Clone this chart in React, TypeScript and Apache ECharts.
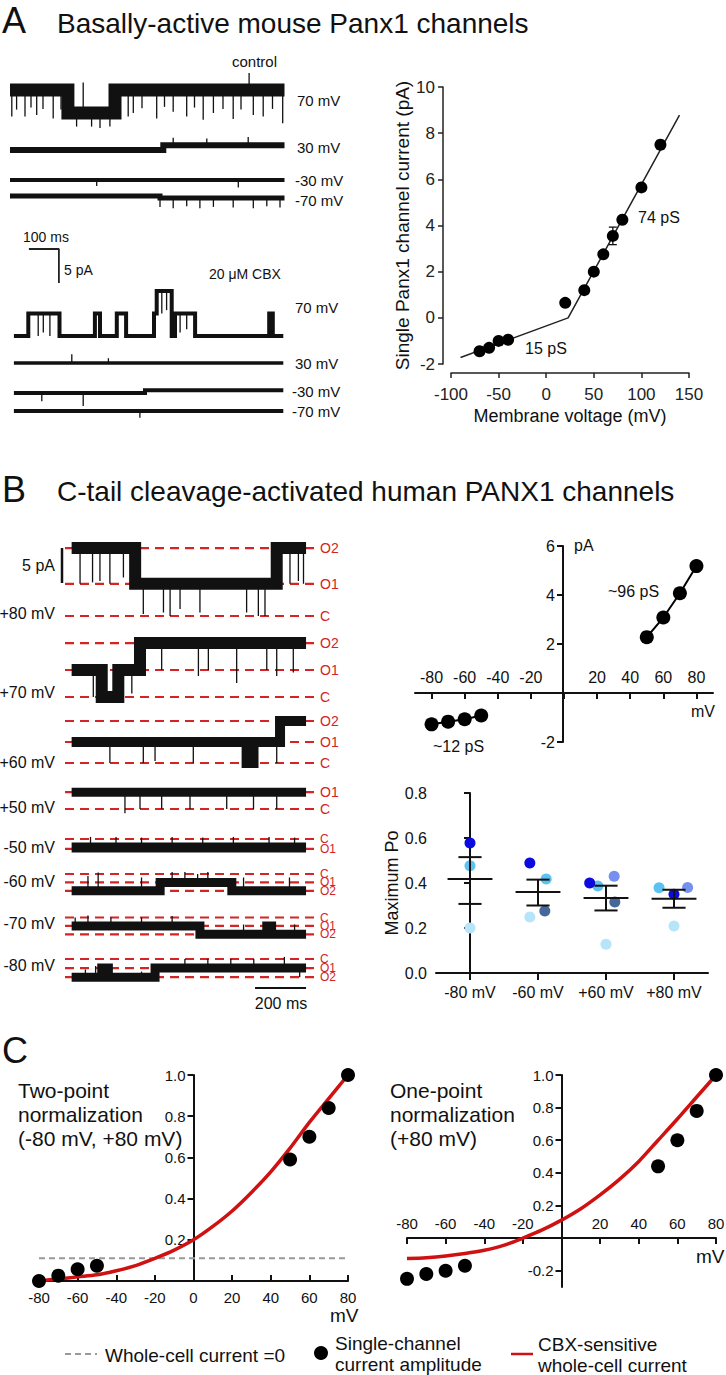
import React, { useEffect, useRef } from "react";
import * as echarts from "echarts";

const FONT = '"Liberation Sans", Arial, Helvetica, sans-serif';
const RED = "#d42424";
const CURVE_RED = "#cf1111";
const INK = "#111";

// ================= DATA =================
// ---- Panel A: single-channel traces (time ms, current pA) ----
const aCtl70Times = [0, 193, 350, 915];
const aCtl70Levels = [3.4, 0, 3.4];
const aCtl70Spikes = [[6, -0.5], [22, 0.5], [50, -0.5], [70, 0.8], [89, -0.3], [110, 0.6], [144, -0.8], [170, 0.5], [222, -2], [244, 4.5], [272, -2], [300, -2.2], [333, -2], [394, -0.5], [411, 0], [440, 0.7], [489, -0.8], [515, 0.9], [544, 0.2], [589, -0.5], [615, 0.8], [644, -1], [678, 0], [710, 0.6], [744, -0.9], [770, 0.5], [797, 5.9], [811, -0.3], [844, -0.5], [875, 0.6], [909, -1.5]];
const aCtl30Times = [0, 511, 915];
const aCtl30Levels = [0, 0.7];
const aCtl30Spikes = [[544, 1.8], [656, 1.7], [794, 1.9]];
const aCtlM30Times = [0, 915];
const aCtlM30Levels = [0];
const aCtlM30Spikes = [[289, -0.9], [761, -1.1]];
const aCtlM70Times = [0, 500, 915];
const aCtlM70Levels = [0, -0.3];
const aCtlM70Spikes = [[500, -1.6], [544, -1.8], [589, -1.5], [633, -1.8], [678, -1.6], [744, -1.7], [811, -1.8], [856, -1.5], [900, -1.7]];
const aCbx70Times = [13, 61, 165, 283, 300, 356, 387, 480, 489, 539, 550, 617, 864, 876, 911];
const aCbx70Levels = [0, 3.3, 0, 3.3, 0, 3.3, 0, 3.3, 6.6, 0, 3.3, 0, 3.3, 0];
const aCbx70Spikes = [[94, 0], [111, 0.5], [133, 0], [506, 3.3], [522, 3.8], [567, 0.5], [589, 1]];
const aCbx30Times = [13, 911];
const aCbx30Levels = [0];
const aCbx30Spikes = [[206, 1.3], [328, 0.7]];
const aCbxM30Times = [13, 450, 911];
const aCbxM30Levels = [-0.3, 0.1];
const aCbxM30Spikes = [[106, -1.5], [244, -2.2]];
const aCbxM70Times = [13, 911];
const aCbxM70Levels = [0];
const aCbxM70Spikes = [[433, -1]];
const aScaleTime = [63, 163]; // 100 ms
const aScaleCurrent = [5, 0]; // 5 pA

// ---- Panel A: I-V relation ----
const ivAVoltage = [-70, -60, -50, -40, 20, 40, 50, 60, 70, 80, 100, 120];
const ivACurrent = [-1.45, -1.3, -1.0, -0.95, 0.65, 1.2, 2.0, 2.75, 3.55, 4.25, 5.65, 7.5];
const ivASem = [0.1, 0.08, 0.05, 0.05, 0.05, 0.08, 0.1, 0.12, 0.38, 0.08, 0.12, 0.18];
const ivAFitV = [-90, 23, 140];
const ivAFitI = [-1.72, 0, 8.78];

// ---- Panel B: traces (levels C / O1 / O2 in pA) ----
const bP80Times = [26, 275, 830, 945];
const bP80Levels = [9.7, 4.6, 9.7];
const bP80Spikes = [[59, 4.6], [108, 4.8], [137, 5], [176, 4.6], [229, 5.5], [307, 0.3], [386, 0.5], [412, 0], [451, 1], [529, 0.5], [712, 0.5], [758, 0], [784, 0], [882, 4.6], [915, 5], [935, 4.6]];
const bP80Dash = [0, 4.6, 9.7];
const bP70Times = [26, 144, 209, 294, 945];
const bP70Levels = [3.86, 0, 3.86, 7.7];
const bP70Spikes = [[111, 0], [262, 0.5], [379, 3.86], [523, 3], [562, 3.86], [673, 2], [791, 3.86], [830, 3], [895, 3.5]];
const bP70Dash = [0, 3.86, 7.7];
const bP60Times = [26, 712, 739, 843, 945];
const bP60Levels = [3, 0, 3, 6];
const bP60Spikes = [[176, 0], [307, 0], [353, 0.3], [503, 0], [830, 0]];
const bP60Dash = [0, 3, 6];
const bP50Times = [26, 945];
const bP50Levels = [2.4];
const bP50Spikes = [[235, -0.6], [294, 0], [379, 0], [490, 0], [634, 0], [739, 0], [830, 0]];
const bP50Dash = [0, 2.4];
const bM50Times = [26, 945];
const bM50Levels = [-1.2];
const bM50Spikes = [[100, 0.3], [200, 0.3], [300, 0.2], [420, 0.3], [540, 0.2], [660, 0.3], [800, 0.3], [900, 0.2]];
const bM50Dash = [0, -1.4];
const bM60Times = [26, 373, 654, 945];
const bM60Levels = [-2.4, -1.2, -2.4];
const bM60Spikes = [[90, -0.3], [130, 0.2], [300, -0.5], [420, 0.3], [470, 0.3], [520, 0], [560, 0.3], [700, -0.5], [880, -0.5]];
const bM60Dash = [0, -1.2, -2.4];
const bM70Times = [26, 529, 791, 810, 945];
const bM70Levels = [-1.2, -2.4, -1.2, -2.4];
const bM70Spikes = [[40, 0], [90, 0.3], [180, 0], [300, 0], [420, 0.2], [700, -1], [900, -1]];
const bM70Dash = [0, -1.2, -2.4];
const bM80Times = [26, 144, 170, 353, 945];
const bM80Levels = [-2.6, -1.3, -2.6, -1.3];
const bM80Spikes = [[80, -1.5], [120, -1], [300, -1.8], [470, 0], [560, 0], [650, 0], [740, 0], [860, 0.3], [920, -2.6]];
const bM80Dash = [0, -1.3, -2.6];
const bScaleTime = [745, 945]; // 200 ms
const bScaleCurrent = [0, 5]; // 5 pA

// ---- Panel B: I-V ----
const ivBPosV = [50, 60, 70, 80];
const ivBPosI = [2.28, 3.08, 4.07, 5.18];
const ivBNegV = [-80, -70, -60, -50];
const ivBNegI = [-1.28, -1.17, -1.07, -0.92];
const ivBXLabels = [-80, -60, -40, -20, 20, 40, 60, 80];
const ivBXTicks = [-80, -60, -40, -20, 0, 20, 40, 60, 80];
const ivBYLabels = [-2, 2, 4, 6];

// ---- Panel B: maximum Po ----
const poCategories = ["-80 mV", "-60 mV", "+60 mV", "+80 mV"];
const poMean = [0.418, 0.36, 0.333, 0.33];
const poLower = [0.307, 0.3, 0.278, 0.29];
const poUpper = [0.515, 0.415, 0.388, 0.37];
// [category position (with jitter), Po]
const poDarkBlue = [[0, 0.578], [0.88, 0.489], [1.76, 0.4], [3, 0.35]];
const poLightBlue = [[0, 0.477], [1.12, 0.418], [1.88, 0.387], [2.78, 0.379]];
const poPale = [[0, 0.2], [0.88, 0.249], [2, 0.128], [3, 0.209]];
const poSlate = [[1.1, 0.276], [2.13, 0.316]];
const poPeriwinkle = [[2.12, 0.43], [3.2, 0.38]];

// ---- Panel C: normalized I-V ----
const normV = [-80, -70, -60, -50, 50, 60, 70, 80];
const twoPointI = [0.0, 0.026, 0.057, 0.074, 0.59, 0.7, 0.84, 1.0];
const onePointI = [-0.25, -0.22, -0.2, -0.17, 0.44, 0.6, 0.78, 1.0];
const wcV = [-80, -70, -60, -50, -40, -30, -20, -10, 0, 10, 20, 30, 40, 50, 60, 70, 80];
const wcTwoPoint = [0.0, 0.01, 0.02, 0.03, 0.05, 0.075, 0.11, 0.15, 0.2, 0.265, 0.34, 0.43, 0.53, 0.645, 0.77, 0.885, 1.0];
const wcOnePoint = [-0.125, -0.12, -0.11, -0.095, -0.075, -0.045, 0.0, 0.05, 0.11, 0.18, 0.265, 0.36, 0.47, 0.6, 0.73, 0.865, 1.0];
const wcZeroLevel = 0.11;
const cXTicks = [-80, -60, -40, -20, 0, 20, 40, 60, 80];
const cXLabelsRight = [-80, -60, -40, -20, 20, 40, 60, 80];
const cYLeft = [0.2, 0.4, 0.6, 0.8, 1.0];
const cYRight = [-0.2, 0.2, 0.4, 0.6, 0.8, 1.0];

// ================= HELPERS =================
function stepPoints(times: number[], levels: number[]) {
  const pts: number[][] = [];
  for (let i = 0; i < levels.length; i++) {
    pts.push([times[i], levels[i]]);
    pts.push([times[i + 1], levels[i]]);
  }
  return pts;
}
function levelAt(times: number[], levels: number[], t: number) {
  for (let i = 0; i < levels.length; i++) {
    if (t >= times[i] && t <= times[i + 1]) return levels[i];
  }
  return levels[levels.length - 1];
}
const lineRender = (w: number, color: string) => (_p: any, api: any) => {
  const a = api.coord([api.value(0), api.value(1)]);
  const b = api.coord([api.value(0), api.value(2)]);
  return { type: "line", shape: { x1: a[0], y1: a[1], x2: b[0], y2: b[1] }, style: { stroke: color, lineWidth: w } };
};

function buildOption() {
  const grids: any[] = [];
  const xAxes: any[] = [];
  const yAxes: any[] = [];
  const series: any[] = [];
  const graphics: any[] = [];

  const addGrid = (g: any, xa: any, ya: any) => {
    grids.push({ ...g, containLabel: false, outerBoundsMode: "none" });
    const gi = grids.length - 1;
    xAxes.push({ splitLine: { show: false }, ...xa, gridIndex: gi });
    yAxes.push({ splitLine: { show: false }, ...ya, gridIndex: gi });
    return { gi, xi: xAxes.length - 1, yi: yAxes.length - 1 };
  };
  const hidden = (min: number, max: number) => ({ type: "value", min, max, show: false });

  const addTrace = (
    lay: { left: number; width: number; tMax: number; base: number; ppa: number },
    times: number[], levels: number[], spikes: number[][], band: number,
    dash?: number[], dashNames?: string[], labelSize = 14
  ) => {
    const yMin = -5, yMax = 12;
    const top = lay.base - yMax * lay.ppa;
    const height = (yMax - yMin) * lay.ppa;
    const { xi, yi } = addGrid({ left: lay.left, width: lay.width, top, height }, hidden(0, lay.tMax), hidden(yMin, yMax));
    if (dash && dashNames) {
      dash.forEach((lv, k) => {
        series.push({
          type: "line", xAxisIndex: xi, yAxisIndex: yi, symbol: "none", silent: true, z: 1,
          data: [[0, lv], [lay.tMax, lv]],
          lineStyle: { color: RED, width: 2.2, type: [9, 6] },
          endLabel: { show: true, formatter: dashNames[k], color: RED, fontSize: labelSize, fontFamily: FONT, distance: 4 },
        });
      });
    }
    series.push({
      type: "line", xAxisIndex: xi, yAxisIndex: yi, symbol: "none", silent: true, z: 3, clip: false,
      data: stepPoints(times, levels),
      lineStyle: { color: INK, width: band, join: "miter", cap: "butt" },
    });
    series.push({
      type: "custom", xAxisIndex: xi, yAxisIndex: yi, silent: true, z: 3, clip: false,
      encode: { x: 0, y: [1, 2] },
      data: spikes.map(([t, p]) => [t, levelAt(times, levels, t), p]),
      renderItem: lineRender(1.3, INK),
    });
  };

  // ---------- Panel A traces ----------
  const A = { left: 10, width: 274.5, tMax: 915, ppa: 6.8 };
  addTrace({ ...A, base: 113 }, aCtl70Times, aCtl70Levels, aCtl70Spikes, 13);
  addTrace({ ...A, base: 150 }, aCtl30Times, aCtl30Levels, aCtl30Spikes, 6);
  addTrace({ ...A, base: 180 }, aCtlM30Times, aCtlM30Levels, aCtlM30Spikes, 4);
  addTrace({ ...A, base: 196 }, aCtlM70Times, aCtlM70Levels, aCtlM70Spikes, 5);
  addTrace({ ...A, base: 336 }, aCbx70Times, aCbx70Levels, aCbx70Spikes, 4);
  addTrace({ ...A, base: 363 }, aCbx30Times, aCbx30Levels, aCbx30Spikes, 3.5);
  addTrace({ ...A, base: 391 }, aCbxM30Times, aCbxM30Levels, aCbxM30Spikes, 4);
  addTrace({ ...A, base: 411 }, aCbxM70Times, aCbxM70Levels, aCbxM70Spikes, 4);
  {
    const { xi, yi } = addGrid({ left: 10, width: 274.5, top: 249, height: 34 }, hidden(0, 915), hidden(0, 5));
    series.push({
      type: "line", xAxisIndex: xi, yAxisIndex: yi, symbol: "none", silent: true,
      data: [[aScaleTime[0], aScaleCurrent[0]], [aScaleTime[1], aScaleCurrent[0]], [aScaleTime[1], aScaleCurrent[1]]],
      lineStyle: { color: "#222", width: 1.8 },
    });
  }

  // ---------- Panel A I-V ----------
  {
    const axisCol = "#222";
    const { xi, yi } = addGrid(
      { left: 451, width: 238, top: 87, height: 277 },
      {
        type: "value", min: -100, max: 150, interval: 50, offset: 9,
        axisLine: { show: true, onZero: false, lineStyle: { color: axisCol, width: 1.5 } },
        axisTick: { show: true, length: 5, lineStyle: { color: axisCol, width: 1.5 } },
        axisLabel: { fontSize: 17, margin: 13, color: "#222", fontFamily: FONT },
        name: "Membrane voltage (mV)", nameLocation: "middle", nameGap: 34,
        nameTextStyle: { fontSize: 18, color: "#111", fontFamily: FONT },
      },
      {
        type: "value", min: -2, max: 10, interval: 2, offset: 8,
        axisLine: { show: true, onZero: false, lineStyle: { color: axisCol, width: 1.5 } },
        axisTick: { show: true, length: 5, lineStyle: { color: axisCol, width: 1.5 } },
        axisLabel: { fontSize: 17, margin: 8, color: "#222", fontFamily: FONT },
        name: "Single Panx1 channel current (pA)", nameLocation: "middle", nameGap: 30,
        nameTextStyle: { fontSize: 19, color: "#111", fontFamily: FONT },
      }
    );
    series.push({
      type: "line", xAxisIndex: xi, yAxisIndex: yi, symbol: "none", silent: true,
      data: ivAFitV.map((v, i) => [v, ivAFitI[i]]),
      lineStyle: { color: "#222", width: 1.5 },
    });
    series.push({
      type: "custom", xAxisIndex: xi, yAxisIndex: yi, silent: true, z: 4,
      encode: { x: 0, y: [1, 2] },
      data: ivAVoltage.map((v, i) => [v, ivACurrent[i] - ivASem[i], ivACurrent[i] + ivASem[i]]),
      renderItem: (_p: any, api: any) => {
        const a = api.coord([api.value(0), api.value(1)]);
        const b = api.coord([api.value(0), api.value(2)]);
        const st = { stroke: "#111", lineWidth: 1.3 };
        return {
          type: "group", children: [
            { type: "line", shape: { x1: a[0], y1: a[1], x2: b[0], y2: b[1] }, style: st },
            { type: "line", shape: { x1: a[0] - 4, y1: a[1], x2: a[0] + 4, y2: a[1] }, style: st },
            { type: "line", shape: { x1: b[0] - 4, y1: b[1], x2: b[0] + 4, y2: b[1] }, style: st },
          ],
        };
      },
    });
    series.push({
      type: "scatter", xAxisIndex: xi, yAxisIndex: yi, symbol: "circle", symbolSize: 12, z: 5,
      data: ivAVoltage.map((v, i) => [v, ivACurrent[i]]),
      itemStyle: { color: "#000", opacity: 1 },
    });
  }

  // ---------- Panel B traces ----------
  const B = { left: 65, width: 251, tMax: 984, ppa: 7 };
  const posNames3 = ["C", "O1", "O2"];
  addTrace({ ...B, base: 616 }, bP80Times, bP80Levels, bP80Spikes, 12, bP80Dash, posNames3);
  addTrace({ ...B, base: 697 }, bP70Times, bP70Levels, bP70Spikes, 12, bP70Dash, posNames3);
  addTrace({ ...B, base: 763 }, bP60Times, bP60Levels, bP60Spikes, 10, bP60Dash, posNames3);
  addTrace({ ...B, base: 809 }, bP50Times, bP50Levels, bP50Spikes, 9, bP50Dash, ["C", "O1"]);
  addTrace({ ...B, base: 839 }, bM50Times, bM50Levels, bM50Spikes, 10, bM50Dash, ["C", "O1"], 12);
  addTrace({ ...B, base: 874 }, bM60Times, bM60Levels, bM60Spikes, 9, bM60Dash, posNames3, 12);
  addTrace({ ...B, base: 917.5 }, bM70Times, bM70Levels, bM70Spikes, 9, bM70Dash, posNames3, 12);
  addTrace({ ...B, base: 959 }, bM80Times, bM80Levels, bM80Spikes, 9, bM80Dash, posNames3, 12);
  {
    const { xi, yi } = addGrid({ left: 60, width: 4, top: 548, height: 35 }, hidden(0, 1), hidden(0, 5));
    series.push({
      type: "line", xAxisIndex: xi, yAxisIndex: yi, symbol: "none", silent: true,
      data: bScaleCurrent.map((c) => [0.5, c]), lineStyle: { color: "#111", width: 2.5 },
    });
  }
  {
    const { xi, yi } = addGrid({ left: 65, width: 251, top: 983, height: 10 }, hidden(0, 984), hidden(0, 1));
    series.push({
      type: "line", xAxisIndex: xi, yAxisIndex: yi, symbol: "none", silent: true,
      data: bScaleTime.map((t) => [t, 0.5]), lineStyle: { color: "#111", width: 2 },
    });
  }

  // ---------- Panel B I-V (axes crossing at the origin) ----------
  {
    const ax = { color: "#111", width: 2 };
    const { xi, yi } = addGrid(
      { left: 415, width: 298, top: 546, height: 196 },
      {
        type: "value", min: -90, max: 90, position: "bottom", offset: -49,
        axisLine: { show: true, onZero: false, lineStyle: ax },
        axisTick: { show: true, length: 6, customValues: ivBXTicks, lineStyle: ax },
        axisLabel: { inside: true, customValues: ivBXLabels, fontSize: 16, margin: 8, color: "#111", fontFamily: FONT },
      },
      {
        type: "value", min: -2, max: 6, position: "left", offset: -148,
        axisLine: { show: true, onZero: false, lineStyle: ax },
        axisTick: { show: true, length: 6, customValues: ivBYLabels, lineStyle: ax },
        axisLabel: { customValues: ivBYLabels, fontSize: 16, margin: 8, color: "#111", fontFamily: FONT },
      }
    );
    [[ivBPosV, ivBPosI], [ivBNegV, ivBNegI]].forEach(([vs, is]) => {
      series.push({
        type: "line", xAxisIndex: xi, yAxisIndex: yi, symbol: "circle", symbolSize: 14,
        data: vs.map((v, i) => [v, is[i]]),
        lineStyle: { color: "#000", width: 2 }, itemStyle: { color: "#000", opacity: 1 }, z: 4,
      });
    });
  }

  // ---------- Panel B Po ----------
  {
    const ax = { color: "#111", width: 2 };
    grids.push({ left: 436, width: 272, top: 793, height: 180, containLabel: false, outerBoundsMode: "none" });
    const gi = grids.length - 1;
    xAxes.push({
      type: "category", gridIndex: gi, data: poCategories, boundaryGap: true,
      axisLine: { show: true, lineStyle: ax },
      axisTick: { show: true, alignWithLabel: true, length: 7, lineStyle: ax },
      axisLabel: { interval: 0, fontSize: 16, margin: 11, color: "#111", fontFamily: FONT },
      splitLine: { show: false },
    });
    xAxes.push({ type: "value", gridIndex: gi, min: -0.5, max: 3.5, show: false, splitLine: { show: false } });
    const xvi = xAxes.length - 1;
    yAxes.push({
      type: "value", gridIndex: gi, min: 0, max: 0.8, interval: 0.2,
      axisLine: { show: true, lineStyle: ax },
      axisTick: { show: true, length: 6, lineStyle: ax },
      axisLabel: { fontSize: 16, margin: 9, color: "#111", fontFamily: FONT, formatter: (v: number) => v.toFixed(1) },
      splitLine: { show: false },
      name: "Maximum Po", nameLocation: "middle", nameGap: 33,
      nameTextStyle: { fontSize: 18, color: "#111", fontFamily: FONT },
    });
    const yi = yAxes.length - 1;
    const patches: [number[][], string][] = [
      [poPale, "#b6e4f8"], [poSlate, "#46679a"], [poLightBlue, "#5cc2f1"], [poPeriwinkle, "#7590ee"], [poDarkBlue, "#0b0be0"],
    ];
    patches.forEach(([d, c]) => {
      series.push({
        type: "scatter", xAxisIndex: xvi, yAxisIndex: yi, symbolSize: 11, data: d,
        itemStyle: { color: c, opacity: 1 }, z: 3,
      });
    });
    series.push({
      type: "custom", xAxisIndex: xvi, yAxisIndex: yi, silent: true, z: 5,
      encode: { x: 0, y: [1, 2, 3] },
      data: poMean.map((m, i) => [i, m, poLower[i], poUpper[i]]),
      renderItem: (_p: any, api: any) => {
        const x = api.value(0);
        const m1 = api.coord([x - 0.33, api.value(1)]);
        const m2 = api.coord([x + 0.33, api.value(1)]);
        const lo1 = api.coord([x - 0.17, api.value(2)]);
        const lo2 = api.coord([x + 0.17, api.value(2)]);
        const hi1 = api.coord([x - 0.17, api.value(3)]);
        const hi2 = api.coord([x + 0.17, api.value(3)]);
        const c = api.coord([x, api.value(2)]);
        const h = api.coord([x, api.value(3)]);
        const st = { stroke: "#111", lineWidth: 2 };
        return {
          type: "group", children: [
            { type: "line", shape: { x1: m1[0], y1: m1[1], x2: m2[0], y2: m2[1] }, style: st },
            { type: "line", shape: { x1: c[0], y1: c[1], x2: h[0], y2: h[1] }, style: st },
            { type: "line", shape: { x1: lo1[0], y1: lo1[1], x2: lo2[0], y2: lo2[1] }, style: st },
            { type: "line", shape: { x1: hi1[0], y1: hi1[1], x2: hi2[0], y2: hi2[1] }, style: st },
          ],
        };
      },
    });
  }

  // ---------- Panel C ----------
  const cPlot = (left: number, top: number, height: number, yMin: number, twoPt: boolean) => {
    const ax = { color: "#111", width: 2 };
    const yVals = twoPt ? cYLeft : cYRight;
    const width = 309;
    const xOffset = twoPt ? 0 : -Math.round(height * (-yMin) / (1 - yMin)); // x axis lies at current 0
    const { xi, yi } = addGrid(
      { left, width, top, height },
      {
        type: "value", min: -80, max: 80, position: "bottom", offset: xOffset,
        axisLine: { show: true, onZero: false, lineStyle: ax },
        axisTick: { show: true, inside: twoPt, length: 6, customValues: cXTicks, lineStyle: ax },
        axisLabel: twoPt
          ? { customValues: cXTicks, fontSize: 15, margin: 9, color: "#111", fontFamily: FONT }
          : { inside: true, customValues: cXLabelsRight, fontSize: 15, margin: 7, color: "#111", fontFamily: FONT },
      },
      {
        type: "value", min: yMin, max: 1, position: "left", offset: -width / 2,
        axisLine: { show: true, onZero: false, lineStyle: ax },
        axisTick: { show: true, length: 6, customValues: yVals, lineStyle: ax },
        axisLabel: { customValues: yVals, fontSize: 15, margin: 8, color: "#111", fontFamily: FONT, formatter: (v: number) => v.toFixed(1) },
      }
    );
    if (twoPt) {
      series.push({
        type: "line", xAxisIndex: xi, yAxisIndex: yi, symbol: "none", silent: true, z: 2,
        data: [[-80, wcZeroLevel], [80, wcZeroLevel]],
        lineStyle: { color: "#999", width: 2, type: [6, 4] },
      });
    }
    const wc = twoPt ? wcTwoPoint : wcOnePoint;
    series.push({
      type: "line", xAxisIndex: xi, yAxisIndex: yi, symbol: "none", silent: true, z: 3, smooth: 0.3,
      data: wcV.map((v, i) => [v, wc[i]]),
      lineStyle: { color: CURVE_RED, width: 3.5 },
    });
    const sc = twoPt ? twoPointI : onePointI;
    series.push({
      type: "scatter", xAxisIndex: xi, yAxisIndex: yi, symbolSize: 14, z: 4,
      data: normV.map((v, i) => [v, sc[i]]), itemStyle: { color: "#000", opacity: 1 },
    });
  };
  cPlot(39, 1075, 206, 0, true);
  cPlot(407, 1075, 212, -0.3, false);

  // ---------- Text & legend graphics ----------
  const txt = (text: string, x: number, y: number, fontSize: number, align = "left", extra: any = {}) =>
    graphics.push({
      type: "text", x, y, silent: true,
      style: { text, fontSize, fontFamily: FONT, fill: extra.fill || "#111", align, verticalAlign: extra.va || "middle", lineHeight: extra.lh },
    });
  txt("A", 2, 20, 36);
  txt("Basally-active mouse Panx1 channels", 57, 23, 28);
  txt("control", 232, 61, 15);
  txt("70 mV", 297, 100, 15);
  txt("30 mV", 297, 147, 15);
  txt("-30 mV", 295, 180, 15);
  txt("-70 mV", 295, 200, 15);
  txt("100 ms", 23, 237, 14);
  txt("5 pA", 64, 270, 14);
  txt("20 \u03bcM CBX", 209, 274, 14);
  txt("70 mV", 295, 307, 15);
  txt("30 mV", 295, 363, 15);
  txt("-30 mV", 292, 391, 15);
  txt("-70 mV", 292, 411, 15);
  txt("74 pS", 638, 217, 16);
  txt("15 pS", 525, 348, 16);

  txt("B", 2, 489, 36);
  txt("C-tail cleavage-activated human PANX1 channels", 57, 491, 28);
  txt("5 pA", 55, 565, 16, "right");
  txt("+80 mV", 55, 613, 16, "right");
  txt("+70 mV", 55, 692, 16, "right");
  txt("+60 mV", 55, 762, 16, "right");
  txt("+50 mV", 55, 807, 16, "right");
  txt("-50 mV", 55, 847, 16, "right");
  txt("-60 mV", 55, 881, 16, "right");
  txt("-70 mV", 55, 923, 16, "right");
  txt("-80 mV", 55, 965, 16, "right");
  txt("200 ms", 281, 1003, 16, "center");
  txt("~96 pS", 608, 591, 16);
  txt("~12 pS", 433, 746, 16);
  txt("pA", 574, 545, 16);
  txt("mV", 691, 711, 16);

  txt("C", 2, 1050, 36);
  txt("Two-point\nnormalization\n(-80 mV, +80 mV)", 18, 1078, 21, "left", { va: "top", lh: 24 });
  txt("One-point\nnormalization\n(+80 mV)", 390, 1078, 21, "left", { va: "top", lh: 24 });
  txt("mV", 330, 1315, 19);
  txt("mV", 696, 1256, 19);

  graphics.push({ type: "line", silent: true, shape: { x1: 65, y1: 1354, x2: 97, y2: 1354 }, style: { stroke: "#999", lineWidth: 2, lineDash: [6, 4] } });
  txt("Whole-cell current =0", 105, 1355, 19);
  graphics.push({ type: "circle", silent: true, shape: { cx: 321, cy: 1353, r: 7 }, style: { fill: "#000" } });
  txt("Single-channel\ncurrent amplitude", 335, 1333, 19, "left", { va: "top", lh: 21 });
  graphics.push({ type: "line", silent: true, shape: { x1: 511, y1: 1354, x2: 533, y2: 1354 }, style: { stroke: CURVE_RED, lineWidth: 2.5 } });
  txt("CBX-sensitive\nwhole-cell current", 538, 1334, 19, "left", { va: "top", lh: 21 });

  return {
    animation: false,
    backgroundColor: "#fff",
    textStyle: { fontFamily: FONT },
    grid: grids,
    xAxis: xAxes,
    yAxis: yAxes,
    series,
    graphic: graphics,
  };
}

export default function App() {
  const ref = useRef<HTMLDivElement>(null);
  useEffect(() => {
    document.body.style.margin = "0";
    const chart = echarts.init(ref.current!, null, { renderer: "svg" });
    chart.setOption(buildOption() as any);
    return () => chart.dispose();
  }, []);
  return <div ref={ref} style={{ position: "absolute", left: 0, top: 0, width: 726, height: 1375 }} />;
}
